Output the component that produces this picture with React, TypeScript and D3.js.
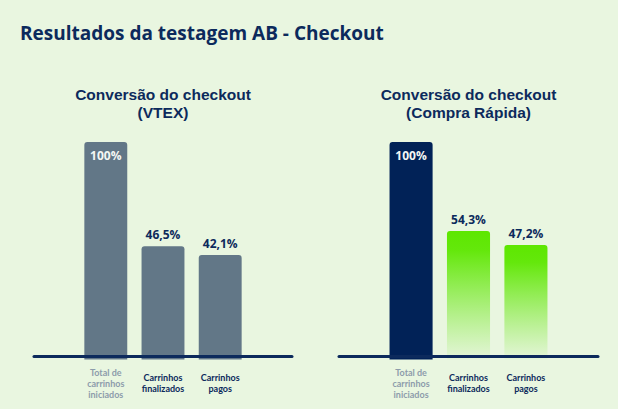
import React from 'react'
import * as d3 from 'd3'

const categories = ['Total de carrinhos iniciados', 'Carrinhos finalizados', 'Carrinhos pagos']
const categoryLines = [['Total de', 'carrinhos', 'iniciados'], ['Carrinhos', 'finalizados'], ['Carrinhos', 'pagos']]
const vtexValues = [100, 46.5, 42.1]
const rapidaValues = [100, 54.3, 47.2]
const vtexLabels = ['100%', '46,5%', '42,1%']
const rapidaLabels = ['100%', '54,3%', '47,2%']

const W = 618
const H = 409
const BG = '#e9f6e0'
const NAVY = '#0c2a5c'
const FONT = '"Open Sans", Lato, sans-serif'
const SMALL_FONT = 'Lato, "Open Sans", sans-serif'
const SUB_FONT = '"Liberation Sans", Arial, sans-serif'

const baseY = 356.5
const y = d3.scaleLinear().domain([-10, 100]).range([baseY, 142])

type PanelProps = {
  x0: number
  x1: number
  title: string[]
  values: number[]
  labels: string[]
  colors: string[]
  id: string
}

function topRoundedRect(x: number, yTop: number, w: number, h: number, r: number) {
  const p = d3.path()
  p.moveTo(x, yTop + h)
  p.lineTo(x, yTop + r)
  p.arcTo(x, yTop, x + r, yTop, r)
  p.lineTo(x + w - r, yTop)
  p.arcTo(x + w, yTop, x + w, yTop + r, r)
  p.lineTo(x + w, yTop + h)
  p.closePath()
  return p.toString()
}

function Panel({ x0, x1, title, values, labels, colors, id }: PanelProps) {
  const xScale = d3.scaleBand<string>().domain(categories).range([x0, x1]).paddingInner(0.25).paddingOuter(0.88)
  const cx = (x0 + x1) / 2
  const bw = xScale.bandwidth()
  return (
    <g>
      <defs>
        <linearGradient id={id} x1="0" y1="0" x2="0" y2="1">
          <stop offset="0" stopColor="#5de700" stopOpacity={1} />
          <stop offset="0.15" stopColor="#5de700" stopOpacity={0.95} />
          <stop offset="1" stopColor="#6fe81a" stopOpacity={0.04} />
        </linearGradient>
      </defs>
      <text x={cx} y={100} textAnchor="middle" fontFamily={SUB_FONT} fontWeight={700} fontSize={15.5} fill={NAVY}>
        {title.map((t, i) => (
          <tspan key={i} x={cx} dy={i === 0 ? 0 : 18}>
            {t}
          </tspan>
        ))}
      </text>
      {values.map((v, i) => {
        const bx = xScale(categories[i])!
        const top = y(v)
        const fill = colors[i] === 'grad' ? `url(#${id})` : colors[i]
        const lines = categoryLines[i]
        return (
          <g key={i}>
            <path d={topRoundedRect(bx, top, bw, baseY + 3 - top, 3)} fill={fill} />
            {i === 0 ? (
              <text x={bx + bw / 2} y={top + 18} textAnchor="middle" fontFamily={FONT} fontWeight={700} fontSize={12} fill="#f4f7f4">
                {labels[i]}
              </text>
            ) : (
              <text x={bx + bw / 2} y={top - 7} textAnchor="middle" fontFamily={FONT} fontWeight={700} fontSize={12} fill={NAVY}>
                {labels[i]}
              </text>
            )}
            <text
              x={bx + bw / 2}
              y={386.5 - ((lines.length - 1) / 2) * 11}
              textAnchor="middle"
              fontFamily={SMALL_FONT}
              fontWeight={700}
              fontSize={9}
              fill={i === 0 ? '#8d9cab' : NAVY}
            >
              {lines.map((l, j) => (
                <tspan key={j} x={bx + bw / 2} dy={j === 0 ? 0 : 11}>
                  {l}
                </tspan>
              ))}
            </text>
          </g>
        )
      })}
      <line x1={x0} x2={x1} y1={baseY} y2={baseY} stroke={NAVY} strokeWidth={3} strokeLinecap="round" />
    </g>
  )
}

export default function App() {
  return (
    <div style={{ position: 'fixed', left: 0, top: 0, width: W, height: H, background: BG }}>
      <svg width={W} height={H} style={{ display: 'block' }}>
        <rect x={0} y={0} width={W} height={H} fill={BG} />
        <text x={20} y={40} fontFamily={FONT} fontWeight={700} fontSize={19} fill={NAVY}>
          Resultados da testagem AB - Checkout
        </text>
        <Panel
          x0={34}
          x1={292}
          title={['Conversão do checkout', '(VTEX)']}
          values={vtexValues}
          labels={vtexLabels}
          colors={['#627787', '#627787', '#627787']}
          id="g1"
        />
        <Panel
          x0={339}
          x1={598}
          title={['Conversão do checkout', '(Compra Rápida)']}
          values={rapidaValues}
          labels={rapidaLabels}
          colors={['#012257', 'grad', 'grad']}
          id="g2"
        />
      </svg>
    </div>
  )
}
